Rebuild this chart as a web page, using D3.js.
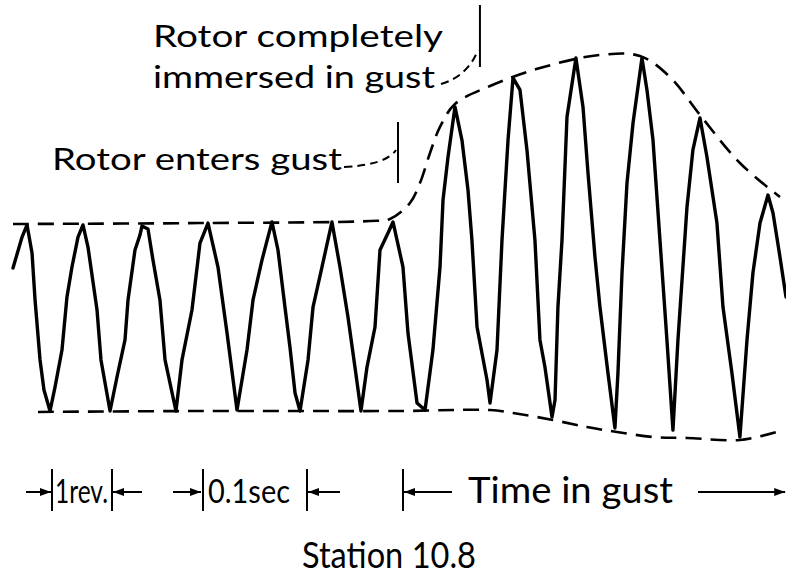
<!DOCTYPE html>
<html>
<head>
<meta charset="utf-8">
<script src="https://cdn.jsdelivr.net/npm/d3@7"></script>
<style>
  html, body { margin: 0; padding: 0; background: #fff; }
  svg { display: block; }
  text { font-family: Lato, "DejaVu Sans", sans-serif; fill: #000; }
</style>
</head>
<body>
<svg id="chart" width="786" height="578"></svg>
<script>
// time in ms, value in % of the pre-gust swing (0 = trough, 100 = crest)
var trace = [
  [12.5, 76.5], [21.2, 93.0], [26.0, 99.5], [30.8, 84.5], [33.7, 59.4], [38.5, 27.3], [42.3, 11.2], [48.1, 0],
  [52.9, 12.8], [59.6, 32.6], [64.4, 61.0], [69.2, 77.0], [75.0, 93.0], [79.8, 99.5], [84.6, 87.7], [93.3, 54.0],
  [97.1, 27.3], [105.8, 0], [112.5, 18.2], [120.2, 38.0], [123.1, 59.4], [129.8, 86.1], [134.6, 94.1], [136.5, 98.9],
  [142.3, 97.3], [147.1, 80.7], [153.8, 59.4], [158.7, 27.3], [169.2, 0], [175.0, 27.3], [184.6, 54.0], [192.3, 89.8],
  [200.0, 100.5], [209.6, 77.0], [218.3, 41.7], [227.9, 0.5], [237.5, 32.6], [243.3, 59.4], [251.9, 80.7], [261.5, 101.1],
  [267.3, 86.1], [274.0, 55.6], [278.8, 34.2], [283.7, 9.6], [288.5, 0], [296.2, 27.3], [301.0, 55.6], [309.6, 77.0],
  [319.2, 101.1], [326.9, 77.0], [334.6, 50.3], [341.3, 23.5], [347.1, 0], [352.9, 23.5], [360.6, 44.9], [365.4, 86.1],
  [373.1, 95.2], [377.9, 101.1], [387.5, 77.0], [392.3, 41.7], [401.0, 4.3], [408.7, 0.5], [416.3, 32.6], [423.1, 77.0],
  [426.0, 112.8], [430.8, 135.8], [437.5, 162.6], [444.2, 144.9], [450.0, 118.2], [453.8, 91.4], [458.7, 44.9], [468.3, 16.6],
  [471.2, 4.3], [477.9, 32.6], [482.7, 91.4], [485.6, 118.2], [488.5, 144.9], [493.3, 178.1], [500.0, 171.7], [506.7, 139.6],
  [514.4, 91.4], [519.2, 38.0], [524.0, 23.5], [530.8, -3.2], [533.7, 5.9], [536.5, 55.6], [540.4, 91.4], [545.2, 157.2],
  [553.8, 188.8], [560.6, 162.6], [565.4, 127.3], [572.1, 82.4], [576.9, 55.6], [584.6, 20.3], [591.3, -9.1], [594.2, 20.3],
  [598.1, 73.8], [602.9, 121.9], [608.7, 154.0], [617.3, 188.8], [622.1, 171.7], [627.9, 144.9], [634.6, 91.4], [641.3, 38.0],
  [647.1, -10.2], [651.9, 38.0], [660.6, 109.1], [666.3, 139.6], [673.1, 156.7], [679.8, 135.8], [689.4, 100.5], [695.2, 55.6],
  [703.8, 20.3], [711.5, -13.9], [718.3, 38.0], [724.0, 73.8], [730.8, 100.5], [738.5, 115.5], [743.3, 105.9], [750.0, 82.4],
  [755.8, 61.0]
];

var upperEnvelope = [
  [12.5, 100.0], [192.3, 100.5], [355.8, 101.6], [375.0, 102.7], [394.2, 111.2], [403.8, 121.9], [413.5, 138.0],
  [423.1, 151.9], [437.5, 164.2], [471.2, 173.8], [519.2, 183.4], [576.9, 190.4], [615.4, 189.8], [644.2, 178.6],
  [673.1, 158.3], [711.5, 132.6], [750.0, 114.4]
];

var lowerEnvelope = [
  [36.5, -0.5], [192.3, 0], [384.6, 0], [471.2, 0.5], [493.3, -1.1], [531.7, -4.8], [564.4, -8.6],
  [593.3, -11.2], [627.9, -13.9], [660.6, -14.4], [711.5, -15.5], [747.1, -11.2]
];

// moments marked above the trace (ms)
var enterLabel = ["Rotor enters gust"];
var immersedLabel = ["Rotor completely", "immersed in gust"];
var gustEnter = 382.7;
var gustImmersed = 461.5;

// scale marks under the trace (ms)
var revMarks = [50.0, 107.7];
var secMarks = [195.2, 295.2];
var gustTime = [387.5, 755.0];
var title = "Station 10.8";

var svg = d3.select('#chart');

var x = d3.scaleLinear().domain([0, 755.8]).range([0, 786]);
var y = d3.scaleLinear().domain([0, 100]).range([411, 224]);

var line = d3.line()
  .x(function(d) { return x(d[0]); })
  .y(function(d) { return y(d[1]); });

var envLine = d3.line()
  .x(function(d) { return x(d[0]); })
  .y(function(d) { return y(d[1]); })
  .curve(d3.curveCatmullRom.alpha(0.5));

svg.selectAll('path.env')
  .data([upperEnvelope, lowerEnvelope])
  .enter().append('path')
  .attr('class', 'env')
  .attr('d', envLine)
  .attr('fill', 'none')
  .attr('stroke', '#000')
  .attr('stroke-width', 2.6)
  .attr('stroke-dasharray', '16,9');

svg.append('path')
  .datum(trace)
  .attr('d', line)
  .attr('fill', 'none')
  .attr('stroke', '#000')
  .attr('stroke-width', 3.4)
  .attr('stroke-linejoin', 'round')
  .attr('stroke-linecap', 'round');

// annotation ticks + dashed leaders
function tick(xp, y1, y2) {
  svg.append('line')
    .attr('x1', xp).attr('x2', xp).attr('y1', y1).attr('y2', y2)
    .attr('stroke', '#000').attr('stroke-width', 2);
}
function leader(x1, y1, cx, cy, x2, y2) {
  var p = d3.path();
  p.moveTo(x1, y1);
  p.quadraticCurveTo(cx, cy, x2, y2);
  svg.append('path')
    .attr('d', p.toString())
    .attr('fill', 'none')
    .attr('stroke', '#000')
    .attr('stroke-width', 2)
    .attr('stroke-dasharray', '8,5');
}
function label(str, xp, yp, size, len) {
  svg.append('text')
    .attr('x', xp).attr('y', yp)
    .attr('font-size', size)
    .attr('textLength', len)
    .attr('lengthAdjust', 'spacingAndGlyphs')
    .text(str);
}

var xe = x(gustEnter), xi = x(gustImmersed);
tick(xe, 122, 183);
leader(344, 167, xe - 12, 165, xe - 2, 150);
label(enterLabel[0], 52, 170, 30, 290);

tick(xi, 5, 67);
leader(441, 84, xi - 12, 76, xi - 2, 50);
label(immersedLabel[0], 153, 47, 30, 290);
label(immersedLabel[1], 153, 88, 30, 282);

// bottom scale marks
var yb = 492;
function bar(xp) {
  svg.append('line')
    .attr('x1', xp).attr('x2', xp).attr('y1', yb - 23).attr('y2', yb + 19)
    .attr('stroke', '#000').attr('stroke-width', 2);
}
function arrow(x1, x2) {
  svg.append('line')
    .attr('x1', x1).attr('x2', x2).attr('y1', yb).attr('y2', yb)
    .attr('stroke', '#000').attr('stroke-width', 2);
  var dir = x2 > x1 ? 1 : -1;
  svg.append('path')
    .attr('d', d3.line()([[x2, yb], [x2 - dir * 11, yb - 4], [x2 - dir * 11, yb + 4]]) + 'Z')
    .attr('fill', '#000');
}

var r0 = x(revMarks[0]), r1 = x(revMarks[1]);
bar(r0); bar(r1);
arrow(r0 - 26, r0 - 1);
arrow(r1 + 30, r1 + 1);
label('1rev.', r0 + 3, 503, 32, 53);

var s0 = x(secMarks[0]), s1 = x(secMarks[1]);
bar(s0); bar(s1);
arrow(s0 - 30, s0 - 2);
arrow(s1 + 33, s1 + 1);
label('0.1sec', s0 + 5, 503, 32, 82);

var g0 = x(gustTime[0]), g1 = x(gustTime[1]);
bar(g0);
arrow(g0 + 49, g0 + 1);
arrow(698, g1);
label('Time in gust', 468, 503, 37, 205);

label(title, 302, 568, 36, 174);
</script>
</body>
</html>
